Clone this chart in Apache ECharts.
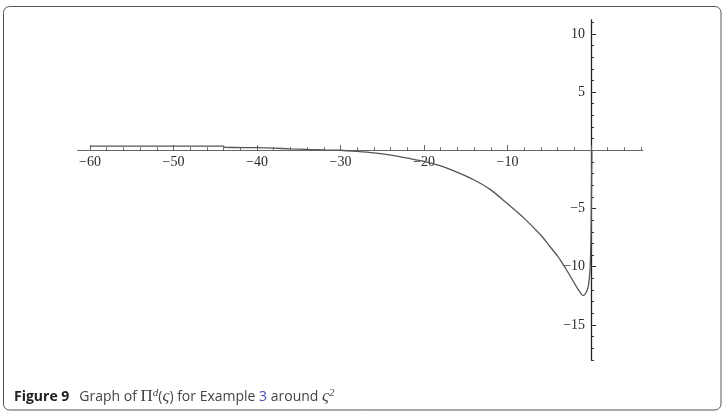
<!DOCTYPE html>
<html>
<head>
<meta charset="utf-8">
<script src="https://cdn.jsdelivr.net/npm/echarts@6/dist/echarts.min.js"></script>
<style>html,body{margin:0;padding:0;background:#fff;}#c{width:723px;height:412px;}</style>
</head>
<body>
<div id="c"></div>
<script>
// Curve samples
const xs = [-60, -44, -43.9, -40, -38, -36, -34, -32, -30, -28, -26, -24, -22, -20, -18, -16, -14, -12, -10, -8, -6, -5, -4, -3, -2.5, -2, -1.6, -1.3, -1.1, -0.95, -0.75, -0.55, -0.36, -0.2, -0.1, 0.0, 0.05, 0.1];
const ys = [0.35, 0.35, 0.26, 0.22, 0.18, 0.12, 0.07, 0.03, 0.0, -0.1, -0.23, -0.42, -0.68, -0.95, -1.35, -1.9, -2.55, -3.4, -4.6, -5.85, -7.3, -8.2, -9.1, -10.2, -10.8, -11.4, -11.9, -12.2, -12.4, -12.48, -12.4, -12.15, -11.8, -11.0, -10.0, -7.5, -4.0, 0.0];

const xMajorTicks = [-60, -50, -40, -30, -20, -10, 0];
const xLabels = [-60, -50, -40, -30, -20, -10];
const xMinorTicks = [-60,-58,-56,-54,-52,-50,-48,-46,-44,-42,-40,-38,-36,-34,-32,-30,-28,-26,-24,-22,-20,-18,-16,-14,-12,-10,-8,-6,-4,-2,0,2,4,6];
const yMajorTicks = [-15, -10, -5, 5, 10];
const yLabels = [-15, -10, -5, 5, 10];
const yMinorTicks = [-18,-17,-16,-15,-14,-13,-12,-11,-10,-9,-8,-7,-6,-5,-4,-3,-2,-1,1,2,3,4,5,6,7,8,9,10,11];

const XMIN = -61.5, XMAX = 6.2, YMIN = -18, YMAX = 11.2;
const minusFmt = v => String(v).replace('-', '\u2212');
const serif = 'Liberation Serif';

// plot rectangle (pixels)
const L = 77.5, R = 80.2, T = 19.9, B = 52.2;
const W = 723 - L - R, H = 412 - T - B;
const zeroX = L + (0 - XMIN) / (XMAX - XMIN) * W;   // pixel x of x = 0
const zeroY = T + (YMAX - 0) / (YMAX - YMIN) * H;   // pixel y of y = 0

const hidden = {show: false};
const chart = echarts.init(document.getElementById('c'), null, {renderer: 'canvas'});
chart.setOption({
  animation: false,
  backgroundColor: '#fff',
  title: {
    left: 9, top: 383,
    text: '{b|Figure 9}  {n|Graph of }{p|\u03A0}{sup|d}{n|(}{i|\u03C2}{n|) for Example }{l|3}{n| around }{i|\u03C2}{sup|2}',
    textStyle: {
      fontWeight: 'normal',
      rich: {
        b: {fontFamily: 'Open Sans', fontWeight: 'bold', fontSize: 14, color: '#222', lineHeight: 18},
        n: {fontFamily: 'Open Sans', fontWeight: 'normal', fontSize: 14, color: '#444', lineHeight: 18},
        p: {fontFamily: serif, fontWeight: 'normal', fontSize: 17, color: '#444', lineHeight: 18},
        i: {fontFamily: serif, fontWeight: 'normal', fontStyle: 'italic', fontSize: 17, color: '#444', lineHeight: 18},
        l: {fontFamily: 'Open Sans', fontWeight: 'normal', fontSize: 14, color: '#4a4ab8', lineHeight: 18},
        sup: {fontFamily: serif, fontWeight: 'normal', fontStyle: 'italic', fontSize: 11, color: '#444', lineHeight: 10, verticalAlign: 'top'}
      }
    }
  },
  graphic: [{
    type: 'rect', silent: true,
    shape: {x: 3.5, y: 6.5, width: 717.5, height: 403.5, r: 6},
    style: {fill: 'none', stroke: '#555', lineWidth: 1}
  }],
  grid: [
    {left: L, right: R, top: T, bottom: B},
    {left: L, right: R, top: T, bottom: B},
    // label grid for x labels: bottom edge at y = 0
    {left: L, right: R, top: T, bottom: 412 - zeroY},
    // label grid for y labels: left edge at x = 0
    {left: zeroX, right: R, top: T, bottom: B}
  ],
  xAxis: [{
    type: 'value', gridIndex: 0, min: XMIN, max: XMAX, position: 'bottom',
    axisLine: {onZero: true, lineStyle: {color: '#666', width: 1}},
    axisTick: {show: true, inside: true, length: 5, customValues: xMajorTicks, lineStyle: {color: '#555', width: 1}},
    axisLabel: hidden, splitLine: hidden
  }, {
    type: 'value', gridIndex: 1, min: XMIN, max: XMAX, position: 'bottom',
    axisLine: {show: false, onZero: true},
    axisTick: {show: true, inside: true, length: 3, customValues: xMinorTicks, lineStyle: {color: '#666', width: 1}},
    axisLabel: hidden, splitLine: hidden
  }, {
    type: 'value', gridIndex: 2, min: XMIN, max: XMAX, position: 'bottom',
    axisLine: {show: false, onZero: false}, axisTick: hidden, splitLine: hidden,
    axisLabel: {show: true, customValues: xLabels, formatter: minusFmt, margin: 5,
      fontFamily: serif, fontSize: 14, color: '#2a2a2a'}
  }, {
    type: 'value', gridIndex: 3, min: 0, max: XMAX, show: false
  }],
  yAxis: [{
    type: 'value', gridIndex: 0, min: YMIN, max: YMAX, position: 'left',
    axisLine: {onZero: true, lineStyle: {color: '#222', width: 1.3}},
    axisTick: {show: true, inside: true, length: 5, customValues: yMajorTicks, lineStyle: {color: '#222', width: 1}},
    axisLabel: hidden, splitLine: hidden
  }, {
    type: 'value', gridIndex: 1, min: YMIN, max: YMAX, position: 'left',
    axisLine: {show: false, onZero: true},
    axisTick: {show: true, inside: true, length: 3, customValues: yMinorTicks, lineStyle: {color: '#333', width: 1}},
    axisLabel: hidden, splitLine: hidden
  }, {
    type: 'value', gridIndex: 2, min: 0, max: YMAX, show: false
  }, {
    type: 'value', gridIndex: 3, min: YMIN, max: YMAX, position: 'left',
    axisLine: {show: false, onZero: false}, axisTick: hidden, splitLine: hidden,
    axisLabel: {show: true, customValues: yLabels, formatter: minusFmt, margin: 6,
      fontFamily: serif, fontSize: 14, color: '#2a2a2a'}
  }],
  series: [{
    type: 'line', xAxisIndex: 0, yAxisIndex: 0,
    data: xs.map((x, i) => [x, ys[i]]),
    showSymbol: false, smooth: 0.3,
    lineStyle: {color: '#555', width: 1.3},
    clip: true, z: 1
  }]
});
</script>
</body>
</html>
